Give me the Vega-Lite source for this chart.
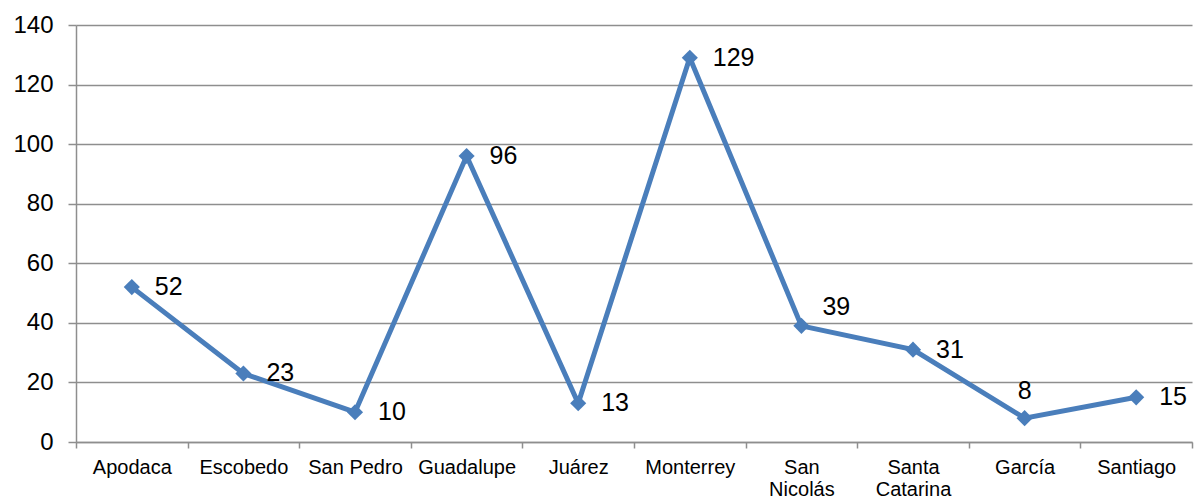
{
  "$schema": "https://vega.github.io/schema/vega-lite/v6.json",
  "width": 1116,
  "height": 417,
  "autosize": {"type": "none"},
  "padding": {"left": 76, "top": 25, "right": 4, "bottom": 57},
  "background": "white",
  "config": {
    "view": {"stroke": null},
    "font": "Liberation Sans"
  },
  "data": {
    "values": [
      {"municipio": "Apodaca", "valor": 52},
      {"municipio": "Escobedo", "valor": 23},
      {"municipio": "San Pedro", "valor": 10},
      {"municipio": "Guadalupe", "valor": 96},
      {"municipio": "Juárez", "valor": 13},
      {"municipio": "Monterrey", "valor": 129},
      {"municipio": "San Nicolás", "valor": 39},
      {"municipio": "Santa Catarina", "valor": 31},
      {"municipio": "García", "valor": 8},
      {"municipio": "Santiago", "valor": 15}
    ]
  },
  "encoding": {
    "x": {
      "field": "municipio",
      "type": "nominal",
      "sort": null,
      "scale": {"type": "band", "paddingInner": 0, "paddingOuter": 0},
      "axis": {
        "title": null,
        "labelAngle": 0,
        "labelFontSize": 20,
        "labelColor": "#000000",
        "labelPadding": 9,
        "labelBaseline": "top",
        "labelLineHeight": 22,
        "labelExpr": "indexof(['San Nicolás','Santa Catarina'], datum.label) >= 0 ? split(datum.label, ' ') : datum.label",
        "tickBand": "extent",
        "tickSize": 6,
        "tickColor": "#8e8e8e",
        "tickWidth": 1.5,
        "domainColor": "#8e8e8e",
        "domainWidth": 1.5,
        "grid": false
      }
    },
    "y": {
      "field": "valor",
      "type": "quantitative",
      "scale": {"domain": [0, 140], "nice": false},
      "axis": {
        "title": null,
        "values": [0, 20, 40, 60, 80, 100, 120, 140],
        "labelFontSize": 24,
        "labelColor": "#000000",
        "labelPadding": 15,
        "tickSize": 8,
        "tickColor": "#8e8e8e",
        "tickWidth": 1.5,
        "domainColor": "#8e8e8e",
        "domainWidth": 1.5,
        "grid": true,
        "gridColor": "#8e8e8e",
        "gridWidth": 1.5
      }
    }
  },
  "layer": [
    {
      "mark": {"type": "line", "color": "#4a7ebb", "strokeWidth": 5}
    },
    {
      "mark": {"type": "point", "shape": "diamond", "filled": true, "color": "#4a7ebb", "size": 260, "opacity": 1}
    },
    {
      "transform": [{"filter": "datum.municipio != 'San Nicolás' && datum.municipio != 'García'"}],
      "mark": {"type": "text", "align": "left", "baseline": "middle", "dx": 23, "fontSize": 25, "color": "#000000"},
      "encoding": {"text": {"field": "valor", "type": "quantitative"}}
    },
    {
      "transform": [{"filter": "datum.municipio == 'San Nicolás'"}],
      "mark": {"type": "text", "align": "left", "baseline": "middle", "dx": 21, "dy": -19, "fontSize": 25, "color": "#000000"},
      "encoding": {"text": {"field": "valor", "type": "quantitative"}}
    },
    {
      "transform": [{"filter": "datum.municipio == 'García'"}],
      "mark": {"type": "text", "align": "center", "baseline": "middle", "dx": 0, "dy": -27, "fontSize": 25, "color": "#000000"},
      "encoding": {"text": {"field": "valor", "type": "quantitative"}}
    }
  ]
}
